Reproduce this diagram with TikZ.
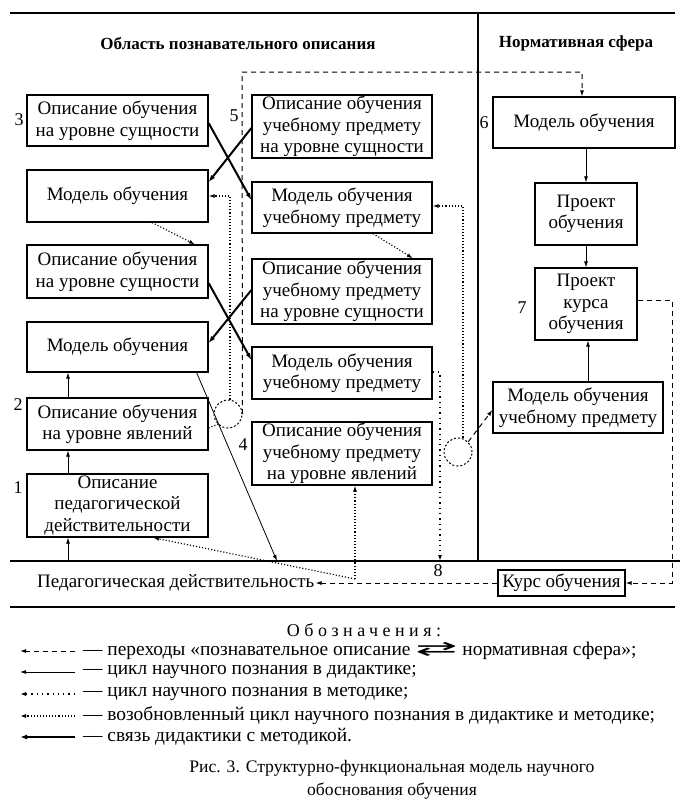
\documentclass[tikz,border=0pt]{standalone}
\usepackage{graphicx}
\usepackage{fontspec}
\setmainfont{Liberation Serif}
\newfontfamily\symfont{DejaVu Sans}
\usetikzlibrary{arrows.meta,calc}
\begin{document}
\begin{tikzpicture}[x=1pt,y=-1pt,
  box/.style={draw, line width=1.2pt, align=center, inner sep=1pt, font=\fontsize{19}{21.5}\selectfont},
  lbl/.style={font=\fontsize{18}{20}\selectfont, inner sep=1pt},
  hdr/.style={font=\bfseries\fontsize{17}{20}\selectfont},
  tip/.style={-{Latex[length=6pt,width=4pt]}},
  thinline/.style={line width=0.8pt, tip},
  thickline/.style={line width=2pt, -{Latex[length=7pt,width=5pt]}},
  dashline/.style={line width=1pt, dash pattern=on 5pt off 4pt, tip},
  sdot/.style={line width=1.3pt, dash pattern=on 1.3pt off 4pt, tip},
  ddot/.style={line width=1.2pt, dash pattern=on 1.1pt off 2pt, tip},
  ddotplain/.style={line width=1.2pt, dash pattern=on 1.1pt off 2pt},
  junction/.style={circle, draw, minimum size=28pt, inner sep=0pt, line width=1pt, dash pattern=on 2pt off 2pt},
  rule/.style={line width=1.3pt},
  legtext/.style={font=\fontsize{19.4}{22}\selectfont, anchor=west, inner sep=0pt}
]
\useasboundingbox (0,0) rectangle (688,804);
\fill[white] (0,0) rectangle (688,804);

% frame lines
\coordinate (tl) at (10,13);
\coordinate (tr) at (675,13);
\coordinate (bl) at (10,561);
\coordinate (br) at (680,561);
\coordinate (vt) at (478,13);
\coordinate (vb) at (478,561);
\draw[rule] (tl) -- (tr);
\draw[rule] (bl) -- (br);
\draw[rule] (vt) -- (vb);

% headers
\node[hdr] (h1) at (238,43) {Область познавательного описания};
\node[hdr] (h2) at (576,43) {Нормативная сфера};

% left column
\node[box, minimum width=181pt, minimum height=51pt] (L3) at (117.5,120.5) {Описание обучения\\на уровне сущности};
\node[box, minimum width=181pt, minimum height=52pt] (LM1) at (117.5,196) {Модель обучения};
\node[box, minimum width=181pt, minimum height=53pt] (LE2) at (117.5,271.5) {Описание обучения\\на уровне сущности};
\node[box, minimum width=181pt, minimum height=50pt] (LM2) at (117.5,347) {Модель обучения};
\node[box, minimum width=181pt, minimum height=52pt] (L2) at (117.5,424) {Описание обучения\\на уровне явлений};
\node[box, minimum width=181pt, minimum height=63pt] (L1) at (117.5,505.5) {Описание\\педагогической\\действительности};

% middle column
\node[box, minimum width=180pt, minimum height=63pt] (M5) at (342,126.5) {Описание обучения\\учебному предмету\\на уровне сущности};
\node[box, minimum width=180pt, minimum height=51pt] (MM1) at (342,207.5) {Модель обучения\\учебному предмету};
\node[box, minimum width=180pt, minimum height=65pt] (ME2) at (342,291.5) {Описание обучения\\учебному предмету\\на уровне сущности};
\node[box, minimum width=180pt, minimum height=52pt] (MM3) at (342,373) {Модель обучения\\учебному предмету};
\node[box, minimum width=180pt, minimum height=63pt] (M4) at (342,453.5) {Описание обучения\\учебному предмету\\на уровне явлений};

% right column
\node[box, minimum width=182pt, minimum height=51pt] (R6) at (584,122.5) {Модель обучения};
\node[box, minimum width=102pt, minimum height=62pt] (RP) at (586,214) {Проект\\обучения};
\node[box, minimum width=102pt, minimum height=72pt] (R7) at (586,304) {Проект\\курса\\обучения};
\node[box, minimum width=170pt, minimum height=51pt] (RM) at (578,407.5) {Модель обучения\\учебному предмету};
\node[box, minimum width=127pt, minimum height=26pt] (K) at (561.5,583) {Курс обучения};
\node[lbl, font=\fontsize{19}{21}\selectfont, anchor=west] (PR) at (36,583) {Педагогическая действительность};

% numbers
\node[lbl] (n1) at (18,488) {1};
\node[lbl] (n2) at (18,405) {2};
\node[lbl] (n3) at (19,120) {3};
\node[lbl] (n4) at (243,445) {4};
\node[lbl] (n5) at (234,116) {5};
\node[lbl] (n6) at (484,123) {6};
\node[lbl] (n7) at (522,308) {7};
\node[lbl] (n8) at (438,571) {8};

% junction circles
\node[junction] (c1) at (228,414) {};
\node[junction] (c2) at (458,452) {};

% thin solid (didactics cycle)
\coordinate (a1) at (68,561);
\draw[thinline] (a1) -- (L1.south -| a1);
\draw[thinline] (L1.north -| a1) -- (L2.south -| a1);
\draw[thinline] (L2.north -| a1) -- (LM2.south -| a1);
\coordinate (p4) at (277,561);
\draw[thinline] ($(LM2.south east)+(-12,0)$) -- (p4);
\draw[thinline] (R6.south -| RP.north) -- (RP.north);
\draw[thinline] (RP.south) -- (R7.north);
\coordinate (x588) at (588,0);
\draw[thinline] (RM.north -| x588) -- (R7.south -| x588);

% thick solid (link didactics - methodology)
\draw[thickline] ($(L3.east)+(0,2.5)$) -- ($(MM1.west)+(0,-7.5)$);
\draw[thickline] ($(M5.west)+(0,1.5)$) -- ($(LM1.east)+(0,-14)$);
\draw[thickline] ($(LE2.east)+(0,11.5)$) -- ($(MM3.west)+(0,-13)$);
\draw[thickline] ($(ME2.west)+(0,-1.5)$) -- ($(LM2.east)+(0,-4)$);

% dashed transitions
\coordinate (t1) at (242,72);
\coordinate (t2) at (582,72);
\draw[dashline] (c1.east) -- (t1) -- (t2) -- (R6.north -| t2);
\draw[dashline] (c2.45) -- ($(RM.west)+(0,2.5)$);
\coordinate (e1) at (672,300);
\coordinate (e2) at (672,583);
\draw[dashline] (R7.east |- e1) -- (e1) -- (e2) -- (K.east);
\draw[dashline] (K.west) -- (PR.east);

% dense dotted (renewed cycle)
\coordinate (d1) at (230,196);
\draw[ddot] (c1.north -| d1) -- (d1) -- (LM1.east);
\draw[ddotplain] ($(L2.east)+(0,4)$) -- (c1.225);
\draw[ddot] ($(LM1.south)+(34.5,0)$) -- ($(LE2.north)+(77.5,0)$);
\draw[ddot] ($(MM1.south)+(31,0)$) -- ($(ME2.north)+(71,0)$);
\coordinate (d2) at (463,206);
\draw[ddot] (c2.north -| d2) -- (d2) -- (MM1.east |- d2);
\coordinate (r0) at (355,579);
\draw[ddot] (r0) -- (M4.south -| r0);
\draw[ddot] (r0) -- ($(L1.south)+(35.5,0)$);

% spaced dotted (methodology cycle)
\coordinate (d3) at (440,372);
\coordinate (d4) at (440,561);
\draw[sdot] (MM3.east |- d3) -- (d3) -- (d4);

% legend
\coordinate (g0) at (10,607);
\coordinate (g1) at (675,607);
\draw[rule] (g0) -- (g1);
\node[font=\fontsize{18}{20}\selectfont\addfontfeatures{LetterSpace=25}] (leg) at (364,630) {Обозначения:};

\coordinate (s1a) at (20,651); \coordinate (s1b) at (75,651);
\coordinate (s2a) at (20,672); \coordinate (s2b) at (75,672);
\coordinate (s3a) at (20,694); \coordinate (s3b) at (75,694);
\coordinate (s4a) at (20,716); \coordinate (s4b) at (75,716);
\coordinate (s5a) at (20,737); \coordinate (s5b) at (75,737);
\draw[dashline] (s1b) -- (s1a);
\draw[thinline] (s2b) -- (s2a);
\draw[sdot] (s3b) -- (s3a);
\draw[ddot] (s4b) -- (s4a);
\draw[thickline] (s5b) -- (s5a);
\node[legtext] (g1t) at (83,651) {— переходы «познавательное описание {\symfont\scalebox{2.6}[1]{⇄}} нормативная сфера»;};
\node[legtext] (g2t) at (83,672) {— цикл научного познания в дидактике;};
\node[legtext] (g3t) at (83,694) {— цикл научного познания в методике;};
\node[legtext] (g4t) at (83,716) {— возобновленный цикл научного познания в дидактике и методике;};
\node[legtext] (g5t) at (83,737) {— связь дидактики с методикой.};

\node[align=center, font=\fontsize{17.6}{23}\selectfont] (cap) at (392,780) {Рис. 3. Структурно-функциональная модель научного\\обоснования обучения};
\end{tikzpicture}
\end{document}
